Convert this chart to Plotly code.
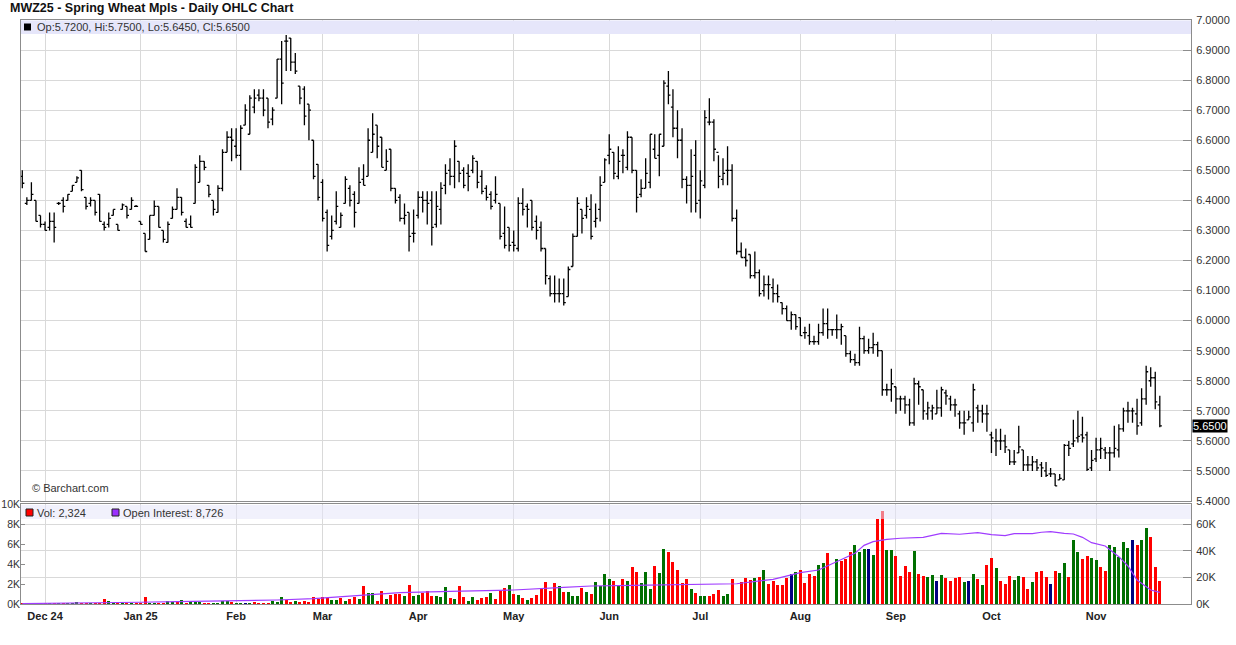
import pandas as pd
import plotly.graph_objects as go

# ---------------- data ----------------
open_ = [
    6.48, 6.39, 6.40, 6.40, 6.35, 6.32, 6.31, 6.33, 6.39, 6.40,
    6.40, 6.43, 6.46, 6.50, 6.41, 6.39, 6.40, 6.42, 6.32, 6.32,
    6.35, 6.32, 6.37, 6.38, 6.37, 6.38, 6.33, 6.29, 6.27, 6.35,
    6.38, 6.30, 6.26, 6.34, 6.37, 6.41, 6.33, 6.32, 6.39, 6.46,
    6.53, 6.45, 6.40, 6.36, 6.44, 6.56, 6.61, 6.58, 6.55, 6.65,
    6.62, 6.71, 6.75, 6.74, 6.74, 6.67, 6.74, 6.87, 6.93, 6.94,
    6.86, 6.78, 6.77, 6.72, 6.60, 6.52, 6.46, 6.36, 6.28, 6.33,
    6.31, 6.39, 6.44, 6.42, 6.39, 6.47, 6.48, 6.56, 6.65, 6.61,
    6.50, 6.57, 6.44, 6.41, 6.34, 6.36, 6.29, 6.35, 6.41, 6.40,
    6.40, 6.32, 6.37, 6.45, 6.50, 6.48, 6.53, 6.50, 6.49, 6.50,
    6.53, 6.48, 6.44, 6.42, 6.40, 6.39, 6.29, 6.31, 6.26, 6.24,
    6.39, 6.38, 6.40, 6.33, 6.31, 6.24, 6.14, 6.09, 6.09, 6.09,
    6.08, 6.18, 6.28, 6.37, 6.35, 6.37, 6.33, 6.37, 6.46, 6.55,
    6.56, 6.48, 6.55, 6.51, 6.61, 6.50, 6.42, 6.44, 6.46, 6.57,
    6.55, 6.58, 6.78, 6.71, 6.64, 6.60, 6.47, 6.45, 6.55, 6.40,
    6.45, 6.66, 6.66, 6.56, 6.47, 6.50, 6.50, 6.34, 6.23, 6.21,
    6.22, 6.15, 6.16, 6.10, 6.12, 6.11, 6.09, 6.06, 6.04, 6.00,
    6.02, 6.01, 5.96, 5.95, 5.93, 5.93, 5.96, 5.99, 5.97, 5.97,
    5.97, 5.95, 5.89, 5.87, 5.86, 5.94, 5.90, 5.91, 5.92, 5.90,
    5.77, 5.77, 5.78, 5.74, 5.74, 5.72, 5.66, 5.79, 5.77, 5.69,
    5.70, 5.69, 5.71, 5.76, 5.74, 5.72, 5.69, 5.66, 5.67, 5.66,
    5.71, 5.70, 5.69, 5.62, 5.60, 5.60, 5.60, 5.57, 5.53, 5.56,
    5.57, 5.52, 5.52, 5.53, 5.52, 5.50, 5.49, 5.49, 5.47, 5.47,
    5.585, 5.59, 5.61, 5.62, 5.62, 5.51, 5.54, 5.57, 5.57, 5.56,
    5.56, 5.57, 5.64, 5.70, 5.70, 5.69, 5.66, 5.74, 5.80, 5.81, 5.72,
]
high = [
    6.50, 6.41, 6.46, 6.40, 6.35, 6.33, 6.36, 6.36, 6.395, 6.41,
    6.42, 6.45, 6.48, 6.50, 6.41, 6.41, 6.40, 6.42, 6.33, 6.36,
    6.37, 6.32, 6.39, 6.38, 6.41, 6.385, 6.33, 6.29, 6.35, 6.40,
    6.38, 6.30, 6.33, 6.38, 6.44, 6.41, 6.34, 6.35, 6.52, 6.55,
    6.53, 6.45, 6.40, 6.45, 6.57, 6.63, 6.64, 6.64, 6.65, 6.72,
    6.75, 6.77, 6.77, 6.77, 6.74, 6.71, 6.87, 6.93, 6.95, 6.94,
    6.89, 6.78, 6.78, 6.72, 6.60, 6.52, 6.47, 6.37, 6.35, 6.43,
    6.36, 6.48, 6.45, 6.43, 6.51, 6.52, 6.64, 6.69, 6.65, 6.61,
    6.57, 6.57, 6.44, 6.42, 6.39, 6.36, 6.37, 6.43, 6.43, 6.43,
    6.43, 6.43, 6.46, 6.52, 6.54, 6.60, 6.53, 6.51, 6.52, 6.55,
    6.53, 6.50, 6.45, 6.43, 6.48, 6.39, 6.38, 6.31, 6.30, 6.41,
    6.44, 6.39, 6.40, 6.35, 6.33, 6.24, 6.15, 6.15, 6.14, 6.14,
    6.18, 6.29, 6.41, 6.37, 6.41, 6.42, 6.39, 6.48, 6.54, 6.62,
    6.56, 6.58, 6.57, 6.63, 6.61, 6.50, 6.47, 6.54, 6.62, 6.62,
    6.62, 6.80, 6.83, 6.77, 6.70, 6.64, 6.48, 6.57, 6.60, 6.50,
    6.70, 6.74, 6.67, 6.55, 6.54, 6.58, 6.52, 6.37, 6.26, 6.24,
    6.22, 6.23, 6.17, 6.15, 6.15, 6.14, 6.12, 6.06, 6.05, 6.03,
    6.02, 6.01, 5.98, 5.99, 5.95, 5.99, 6.04, 6.04, 5.97, 6.02,
    5.99, 5.95, 5.90, 5.89, 5.98, 5.95, 5.94, 5.96, 5.93, 5.90,
    5.79, 5.84, 5.78, 5.75, 5.75, 5.74, 5.81, 5.80, 5.77, 5.73,
    5.72, 5.77, 5.78, 5.77, 5.75, 5.74, 5.70, 5.70, 5.70, 5.79,
    5.72, 5.72, 5.72, 5.63, 5.64, 5.64, 5.62, 5.57, 5.57, 5.65,
    5.57, 5.55, 5.55, 5.54, 5.53, 5.53, 5.51, 5.49, 5.49, 5.59,
    5.60, 5.67, 5.70, 5.68, 5.63, 5.57, 5.61, 5.61, 5.58, 5.58,
    5.65, 5.655, 5.71, 5.73, 5.71, 5.74, 5.775, 5.85, 5.845, 5.83, 5.75,
]
low = [
    6.44, 6.385, 6.40, 6.33, 6.31, 6.30, 6.30, 6.26, 6.385, 6.36,
    6.40, 6.43, 6.46, 6.43, 6.37, 6.38, 6.35, 6.33, 6.30, 6.31,
    6.35, 6.30, 6.37, 6.34, 6.37, 6.38, 6.32, 6.23, 6.27, 6.35,
    6.31, 6.26, 6.26, 6.34, 6.37, 6.35, 6.31, 6.31, 6.39, 6.46,
    6.50, 6.41, 6.35, 6.36, 6.43, 6.56, 6.53, 6.54, 6.50, 6.65,
    6.62, 6.69, 6.73, 6.68, 6.64, 6.65, 6.74, 6.72, 6.83, 6.83,
    6.82, 6.72, 6.65, 6.60, 6.47, 6.40, 6.33, 6.23, 6.27, 6.32,
    6.31, 6.39, 6.38, 6.31, 6.39, 6.45, 6.48, 6.56, 6.54, 6.51,
    6.50, 6.43, 6.39, 6.33, 6.32, 6.23, 6.26, 6.34, 6.36, 6.32,
    6.25, 6.31, 6.32, 6.42, 6.45, 6.44, 6.46, 6.44, 6.43, 6.49,
    6.44, 6.42, 6.40, 6.37, 6.39, 6.27, 6.24, 6.23, 6.23, 6.23,
    6.35, 6.31, 6.30, 6.27, 6.23, 6.12, 6.08, 6.06, 6.06, 6.05,
    6.08, 6.18, 6.28, 6.29, 6.34, 6.27, 6.31, 6.33, 6.46, 6.52,
    6.47, 6.47, 6.49, 6.50, 6.49, 6.36, 6.41, 6.44, 6.44, 6.54,
    6.48, 6.58, 6.72, 6.61, 6.54, 6.44, 6.39, 6.36, 6.36, 6.34,
    6.44, 6.65, 6.53, 6.44, 6.45, 6.45, 6.33, 6.22, 6.21, 6.18,
    6.14, 6.14, 6.08, 6.08, 6.07, 6.06, 6.06, 6.02, 6.00, 5.97,
    5.97, 5.95, 5.94, 5.92, 5.92, 5.92, 5.95, 5.94, 5.95, 5.94,
    5.92, 5.88, 5.86, 5.85, 5.85, 5.89, 5.89, 5.89, 5.88, 5.75,
    5.75, 5.73, 5.69, 5.70, 5.69, 5.65, 5.65, 5.72, 5.67, 5.67,
    5.67, 5.69, 5.68, 5.72, 5.70, 5.68, 5.64, 5.62, 5.67, 5.63,
    5.66, 5.66, 5.63, 5.56, 5.55, 5.57, 5.56, 5.52, 5.52, 5.56,
    5.50, 5.50, 5.50, 5.50, 5.48, 5.48, 5.48, 5.45, 5.47, 5.47,
    5.55, 5.58, 5.595, 5.595, 5.50, 5.50, 5.53, 5.54, 5.54, 5.50,
    5.545, 5.545, 5.63, 5.66, 5.66, 5.62, 5.65, 5.72, 5.78, 5.705, 5.645,
]
close = [
    6.457, 6.40, 6.42, 6.33, 6.32, 6.30, 6.33, 6.31, 6.39, 6.38,
    6.42, 6.45, 6.475, 6.436, 6.38, 6.40, 6.36, 6.33, 6.31, 6.34,
    6.37, 6.30, 6.385, 6.35, 6.40, 6.38, 6.32, 6.23, 6.35, 6.38,
    6.31, 6.27, 6.32, 6.37, 6.41, 6.36, 6.31, 6.31, 6.51, 6.53,
    6.51, 6.42, 6.37, 6.44, 6.56, 6.61, 6.60, 6.55, 6.64, 6.70,
    6.74, 6.74, 6.74, 6.70, 6.66, 6.70, 6.87, 6.79, 6.93, 6.86,
    6.83, 6.74, 6.68, 6.70, 6.48, 6.41, 6.34, 6.25, 6.30, 6.38,
    6.35, 6.47, 6.40, 6.36, 6.46, 6.45, 6.60, 6.62, 6.58, 6.51,
    6.53, 6.44, 6.40, 6.34, 6.35, 6.28, 6.29, 6.41, 6.40, 6.39,
    6.31, 6.38, 6.44, 6.49, 6.48, 6.58, 6.49, 6.45, 6.48, 6.54,
    6.46, 6.43, 6.41, 6.38, 6.42, 6.28, 6.25, 6.25, 6.25, 6.39,
    6.37, 6.37, 6.31, 6.30, 6.24, 6.15, 6.09, 6.09, 6.09, 6.06,
    6.17, 6.28, 6.39, 6.34, 6.38, 6.28, 6.34, 6.45, 6.535, 6.57,
    6.49, 6.53, 6.55, 6.61, 6.50, 6.41, 6.44, 6.49, 6.62, 6.54,
    6.62, 6.79, 6.75, 6.64, 6.60, 6.47, 6.45, 6.48, 6.39, 6.465,
    6.675, 6.66, 6.57, 6.48, 6.49, 6.50, 6.34, 6.23, 6.21, 6.20,
    6.15, 6.16, 6.09, 6.12, 6.12, 6.09, 6.08, 6.04, 6.00, 6.02,
    5.98, 5.95, 5.96, 5.93, 5.93, 5.96, 5.99, 5.97, 5.97, 5.97,
    5.98, 5.89, 5.87, 5.86, 5.94, 5.90, 5.91, 5.92, 5.90, 5.77,
    5.77, 5.79, 5.74, 5.74, 5.72, 5.66, 5.79, 5.78, 5.70, 5.71,
    5.71, 5.71, 5.77, 5.75, 5.72, 5.72, 5.66, 5.66, 5.68, 5.77,
    5.70, 5.69, 5.69, 5.61, 5.60, 5.60, 5.58, 5.53, 5.53, 5.58,
    5.52, 5.52, 5.53, 5.51, 5.51, 5.485, 5.49, 5.45, 5.475, 5.585,
    5.575, 5.60, 5.615, 5.61, 5.505, 5.535, 5.57, 5.575, 5.56, 5.56,
    5.575, 5.64, 5.70, 5.70, 5.70, 5.65, 5.74, 5.83, 5.81, 5.73, 5.65,
]
# daily volume, thousands of contracts (None = no bar shown)
volume_k = [
    0.03, 0.03, 0.03, 0.03, 0.03, 0.03, 0.06, 0.03, 0.02, 0.02,
    0.03, 0.03, 0.2, 0.06, 0.03, 0.03, 0.03, 0.04, 0.5, 0.3,
    0.05, 0.05, 0.05, 0.05, 0.05, 0.05, 0.05, 0.7, 0.05, 0.1,
    0.1, 0.1, 0.3, 0.2, 0.2, 0.4, 0.1, 0.2, 0.2, 0.2,
    0.1, 0.1, 0.05, 0.1, 0.3, 0.3, 0.2, 0.1, 0.1, 0.1,
    0.1, 0.2, 0.1, 0.1, 0.1, 0.3, 0.2, 0.7, 0.4, 0.2,
    0.3, 0.2, 0.3, 0.2, 0.7, 0.5, 0.7, 0.6, 0.4, 0.4,
    0.6, 0.3, 0.5, 0.7, 0.5, 1.8, 1.1, 1.1, 0.3, 1.3,
    0.5, 0.9, 1.0, 1.0, 0.8, 1.9, 0.8, 0.9, 1.1, 1.3,
    0.8, 0.8, 0.7, 1.7, 0.6, 0.5, 1.8, 0.7, 0.3, 0.7,
    0.4, 0.6, 0.7, 1.1, 0.5, 1.3, 1.6, 1.9, 1.0, 0.9,
    0.6, 0.4, 0.6, 0.9, 1.6, 2.2, 1.3, 2.1, 1.8, 1.2,
    1.2, 0.8, 0.8, 1.6, 1.2, 1.0, 2.2, 1.8, 3.0, 2.5,
    2.3, 1.8, 2.5, 2.3, 3.7, 3.2, 2.1, 3.2, 1.5, 3.8,
    3.1, 5.5, 5.2, 4.2, 3.4, 2.1, 2.5, 1.5, 1.1, 0.8,
    0.8, 0.8, 1.0, 1.4, 0.8, 1.0, 2.5, None, 2.2, 2.6,
    2.4, 2.6, 2.7, 3.4, 2.0, 2.3, 1.9, 1.9, 2.6, 3.0,
    3.2, 3.4, 2.1, 3.0, 2.8, 3.9, 4.1, 5.1, None, 4.5,
    4.3, 4.5, 5.2, 5.9, 5.2, 5.5, 5.5, 4.9, 8.5, 9.3,
    5.4, 5.4, 4.8, 2.8, 3.8, 3.2, 5.3, 3.0, 2.8, 2.7,
    2.9, 2.3, 2.9, 2.6, 2.3, 2.6, 2.7, 2.2, 2.3, 3.0,
    2.5, 1.9, 3.9, 4.6, 3.6, 2.3, 2.0, 2.8, 2.4, 2.8,
    2.7, 1.5, 2.2, 3.2, 3.3, 2.7, 2.0, 3.3, 3.1, 4.1,
    2.7, 6.4, 5.2, 4.5, 4.8, 4.6, 4.4, 3.7, 3.3, 5.9,
    5.7, 4.7, 6.2, 5.6, 6.4, 5.9, 6.4, 7.6, 6.7, 3.7, 2.324,
]
# volume bar colour code per bar: g = up, r = down, b = unchanged, n = none
vol_dir = list(
    "rrgrrrgrgr" "gggrrgrrrg" "grgrgrrrgg" "rrggrgrggg" "rrggggrggb"
    "grrrrgggrr" "grrrrrrrgg" "rgrrgrggrr" "grrrgrggrr" "rgggrgrrgg"
    "rrrgrrrgrg" "rgrrrrrrgr" "gggrgrgggg" "rgrgrrgggr" "ggrrrrrgrg"
    "grrrggrnrr" "rgrgrrrrrb" "grrrrggrng" "rrrgggbgrr" "ggrrrrgrrg"
    "gbgrrrrgbg" "rgrrgrrrgg" "rrgrrrbrgg" "rggrrggrrg" "ggggbrggrrr"
)
# open interest, sampled along the line (1-based bar number, thousands)
oi_bar = [1, 10, 20, 27, 35, 47, 57, 65, 77, 84, 95, 109, 120, 126, 135, 142,
          150, 158, 166, 172, 176, 180, 184, 186, 188, 191, 194, 199, 203, 207,
          211, 214, 217, 219, 223, 225, 227, 230, 232, 234, 236, 239, 242, 244,
          246, 249, 250, 251]
oi_k = [0.3, 0.5, 0.8, 1.3, 1.8, 2.3, 3.0, 4.0, 6.5, 8.5, 9.5, 10.5, 12.5, 13.5,
        14.0, 14.5, 15.0, 15.2, 18.5, 23.5, 25.5, 31.8, 38.0, 44.0, 46.8, 48.5,
        49.3, 50.0, 53.0, 52.3, 53.5, 52.0, 51.3, 52.8, 52.8, 53.8, 54.3, 53.0,
        52.5, 50.0, 46.0, 43.5, 35.5, 28.5, 18.0, 10.5, 9.5, 8.726]

price_ticks = [5.4, 5.5, 5.6, 5.7, 5.8, 5.9, 6.0, 6.1, 6.2, 6.3, 6.4, 6.5, 6.6, 6.7, 6.8, 6.9, 7.0]
vol_ticks_k = [0, 2, 4, 6, 8, 10]
oi_ticks_k = [0, 20, 40, 60]

# ---------------- trading calendar ----------------
holidays = {"2024-11-28", "2024-12-25", "2025-01-01", "2025-01-20", "2025-02-17",
            "2025-04-18", "2025-05-26", "2025-06-19", "2025-07-04", "2025-09-01"}
n = len(close)
days = [d for d in pd.bdate_range("2024-11-22", "2025-11-21")
        if d.strftime("%Y-%m-%d") not in holidays]
idx = list(range(n))
hover = [days[i].strftime("%Y-%m-%d") if i < len(days) else str(i) for i in idx]

tick_pos, tick_txt = [], []
for i in range(1, min(n, len(days))):
    if days[i].month != days[i - 1].month:
        d = days[i]
        tick_pos.append(i)
        lab = d.strftime("%b %y") if d.month in (12, 1) else d.strftime("%b")
        tick_txt.append("<b>" + lab + "</b>")

# ---------------- geometry helpers ----------------
W, H = 1236, 645
ML, MR, MT, MB = 21, 45, 20, 41
PW, PH = W - ML - MR, H - MT - MB


def py(y):
    return (H - MB - y) / PH


def px(x):
    return (x - ML) / PW


BAR_PX = 4.55
x_lo = -(22.3 - ML) / BAR_PX
x_hi = x_lo + PW / BAR_PX

FONT = "Liberation Sans, Arial, sans-serif"
GRID = "#d9d9d9"
AX = "#8c8c8c"

col_map = {"g": "#006f00", "r": "#ff0000", "b": "#000080", "n": "#ffffff"}
vol_colors = [col_map[c] for c in vol_dir[:n]]
vol = [None if v is None else v * 1000 for v in volume_k]
oi_x = [b - 1 for b in oi_bar]
oi = [v * 1000 for v in oi_k]

fig = go.Figure()
fig.add_trace(go.Ohlc(
    x=idx, open=open_, high=high, low=low, close=close,
    increasing=dict(line=dict(color="black", width=1.3)),
    decreasing=dict(line=dict(color="black", width=1.3)),
    tickwidth=0.45, text=hover, xaxis="x", yaxis="y", showlegend=False,
))
# invisible trace so the base volume-panel axis exists
fig.add_trace(go.Scatter(x=oi_x, y=oi, mode="lines", line=dict(width=0),
                         opacity=0, hoverinfo="skip", xaxis="x2", yaxis="y2",
                         showlegend=False))
fig.add_trace(go.Bar(x=idx, y=vol, marker=dict(color=vol_colors, line=dict(width=0)),
                     width=0.66, xaxis="x2", yaxis="y3", showlegend=False))
fig.add_trace(go.Scatter(x=oi_x, y=oi, mode="lines",
                         line=dict(color="#a03cff", width=1.2),
                         xaxis="x2", yaxis="y4", showlegend=False))

common_x = dict(range=[x_lo, x_hi], tickvals=tick_pos, showgrid=True, gridcolor=GRID,
                zeroline=False, showline=True, linecolor=AX, mirror=True, ticks="",
                automargin=False)
fig.update_layout(
    width=W, height=H,
    margin=dict(l=ML, r=MR, t=MT, b=MB, autoexpand=False),
    paper_bgcolor="white", plot_bgcolor="white",
    font=dict(family=FONT, size=11, color="#222"),
    showlegend=False, bargap=0,
    xaxis=dict(domain=[0, 1], anchor="y", showticklabels=False,
               rangeslider=dict(visible=False), **common_x),
    xaxis2=dict(domain=[0, 1], anchor="y2", ticktext=tick_txt, ticklabelstandoff=2,
                tickfont=dict(size=11, color="#222"), **common_x),
    yaxis=dict(domain=[py(501), 1], anchor="x", side="right", range=[5.4, 7.0],
               tickvals=price_ticks, ticktext=[f"{v:.4f}" for v in price_ticks],
               ticks="inside", ticklen=8, tickcolor=AX, ticklabelstandoff=2,
               tickfont=dict(size=11, color="#333"),
               showgrid=True, gridcolor=GRID, zeroline=False,
               showline=True, linecolor=AX, mirror=True, automargin=False),
    yaxis2=dict(domain=[0, py(504)], anchor="x2", side="right", range=[0, 75000],
                tickvals=[v * 1000 for v in oi_ticks_k],
                ticktext=[f"{v}K" for v in oi_ticks_k],
                ticks="inside", ticklen=8, tickcolor=AX, ticklabelstandoff=2,
                tickfont=dict(size=11, color="#333"),
                showgrid=True, gridcolor=GRID, zeroline=False,
                showline=True, linecolor=AX, mirror=True, automargin=False),
    yaxis3=dict(overlaying="y2", anchor="x2", side="left", range=[0, 10000],
                tickvals=[v * 1000 for v in vol_ticks_k],
                ticktext=[f"{v}K" for v in vol_ticks_k],
                ticks="inside", ticklen=4, tickcolor=AX,
                tickfont=dict(size=10.5, color="#333"),
                showgrid=False, zeroline=False, showline=False, automargin=False),
    yaxis4=dict(overlaying="y2", anchor="x2", side="right", range=[0, 75000],
                visible=False, showgrid=False, automargin=False),
)

shapes = [
    # price header strip
    dict(type="rect", xref="paper", yref="paper", x0=0, x1=1, y0=py(34), y1=py(20.5),
         fillcolor="#e6e6fa", line=dict(width=0), layer="above"),
    dict(type="rect", xref="paper", yref="paper", x0=px(24), x1=px(31), y0=py(30.5), y1=py(23.5),
         fillcolor="black", line=dict(width=0), layer="above"),
    # volume header strip (translucent, so tall bars show through)
    dict(type="rect", xref="paper", yref="paper", x0=0, x1=1, y0=py(519), y1=py(505),
         fillcolor="#e6e6fa", opacity=0.55, line=dict(width=0), layer="above"),
    dict(type="rect", xref="paper", yref="paper", x0=px(26), x1=px(33), y0=py(516), y1=py(509),
         fillcolor="#ff0000", line=dict(color="#222", width=1), layer="above"),
    dict(type="rect", xref="paper", yref="paper", x0=px(112), x1=px(119), y0=py(516), y1=py(509),
         fillcolor="#9b30ff", line=dict(color="#222", width=1), layer="above"),
]
fig.update_layout(shapes=shapes)

last_vol = volume_k[-1] * 1000
ann = [
    dict(text="<b>MWZ25 - Spring Wheat Mpls - Daily OHLC Chart</b>", x=px(8), y=py(8),
         xanchor="left", yanchor="middle", font=dict(size=12.5, color="#111")),
    dict(text=f"Op:{open_[-1]:.4f}, Hi:{high[-1]:.4f}, Lo:{low[-1]:.4f}, Cl:{close[-1]:.4f}",
         x=px(35), y=py(27.5), xanchor="left", yanchor="middle", font=dict(size=11, color="#333")),
    dict(text=f"Vol: {last_vol:,.0f}", x=px(35), y=py(512.5), xanchor="left", yanchor="middle",
         font=dict(size=11, color="#333")),
    dict(text=f"Open Interest: {oi[-1]:,.0f}", x=px(121), y=py(512.5), xanchor="left",
         yanchor="middle", font=dict(size=11, color="#333")),
    dict(text="© Barchart.com", x=px(30), y=py(488), xanchor="left", yanchor="middle",
         font=dict(size=11, color="#333")),
]
for a in ann:
    a.update(xref="paper", yref="paper", showarrow=False)
fig.update_layout(annotations=ann)
fig.add_annotation(text=f"{close[-1]:.4f}", xref="paper", yref="y", x=1, y=close[-1],
                   xanchor="left", yanchor="middle", xshift=1, showarrow=False,
                   bgcolor="black", font=dict(size=11, color="white"), borderpad=0)

fig.write_html("out.html", config={"displayModeBar": False},
               post_script="document.body.style.margin='0px';document.body.style.overflow='hidden';")
